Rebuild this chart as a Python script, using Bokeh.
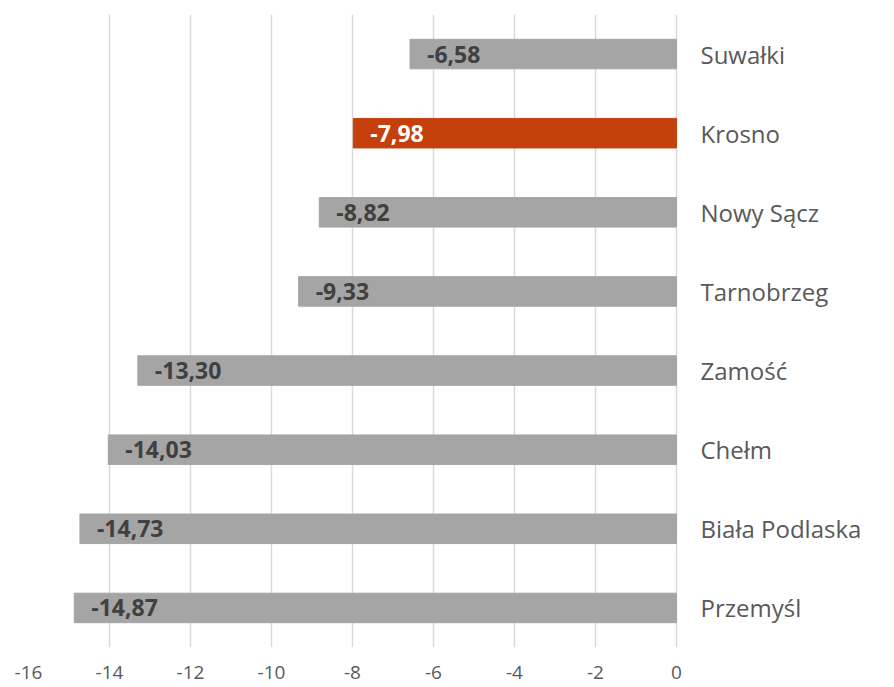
from bokeh.plotting import figure
from bokeh.models import ColumnDataSource, FixedTicker, FactorRange, Range1d
from bokeh.core.properties import value
from bokeh.embed import file_html
from bokeh.resources import INLINE

cities = ["Suwałki", "Krosno", "Nowy Sącz", "Tarnobrzeg", "Zamość", "Chełm", "Biała Podlaska", "Przemyśl"]
values = [-6.58, -7.98, -8.82, -9.33, -13.30, -14.03, -14.73, -14.87]
highlight = "Krosno"
tick_values = [-16, -14, -12, -10, -8, -6, -4, -2, 0]
tick_labels = ["-16", "-14", "-12", "-10", "-8", "-6", "-4", "-2", "0"]

GRAY = "#A5A5A5"
RED = "#C4410E"

labels = [f"{v:.2f}".replace(".", ",") for v in values]
colors = [RED if c == highlight else GRAY for c in cities]
label_colors = ["#FFFFFF" if c == highlight else "#404040" for c in cities]

src = ColumnDataSource(dict(city=cities, val=values, lab=labels, col=colors,
                            lcol=label_colors, zero=[0] * len(cities)))

p = figure(width=894, height=687, output_backend="svg", toolbar_location=None,
           y_range=FactorRange(factors=list(reversed(cities)), range_padding=0),
           x_range=Range1d(-16, 5.383),
           min_border_left=28, min_border_right=0, min_border_top=14, min_border_bottom=40)
p.outline_line_color = None
p.background_fill_color = "white"

p.hbar(y="city", left="val", right="zero", height=0.373, color="col", source=src)

p.text(x="val", y="city", text="lab", text_color="lcol", x_offset=17,
       text_align="left", text_baseline="middle", text_font=value("Open Sans"),
       text_font_style="bold", text_font_size="23px", source=src)

p.text(x="zero", y="city", text="city", text_color="#595959", x_offset=24,
       text_align="left", text_baseline="middle", text_font=value("Open Sans"),
       text_font_size="24px", source=src)

p.yaxis.visible = False
p.ygrid.grid_line_color = None
p.xaxis.ticker = FixedTicker(ticks=tick_values)
p.xaxis.major_label_overrides = {t: s for t, s in zip(tick_values, tick_labels)}
p.xgrid.ticker = FixedTicker(ticks=tick_values)
p.xgrid.grid_line_color = "#D9D9D9"
p.xgrid.grid_line_width = 1.5
p.xaxis.axis_line_color = None
p.xaxis.major_tick_line_color = None
p.xaxis.minor_tick_line_color = None
p.xaxis.major_tick_out = 0
p.xaxis.major_tick_in = 0
p.xaxis.major_label_standoff = 18
p.xaxis.major_label_text_font = "Open Sans"
p.xaxis.major_label_text_font_size = "19px"
p.xaxis.major_label_text_color = "#595959"

open("out.html", "w").write(file_html(p, INLINE))
